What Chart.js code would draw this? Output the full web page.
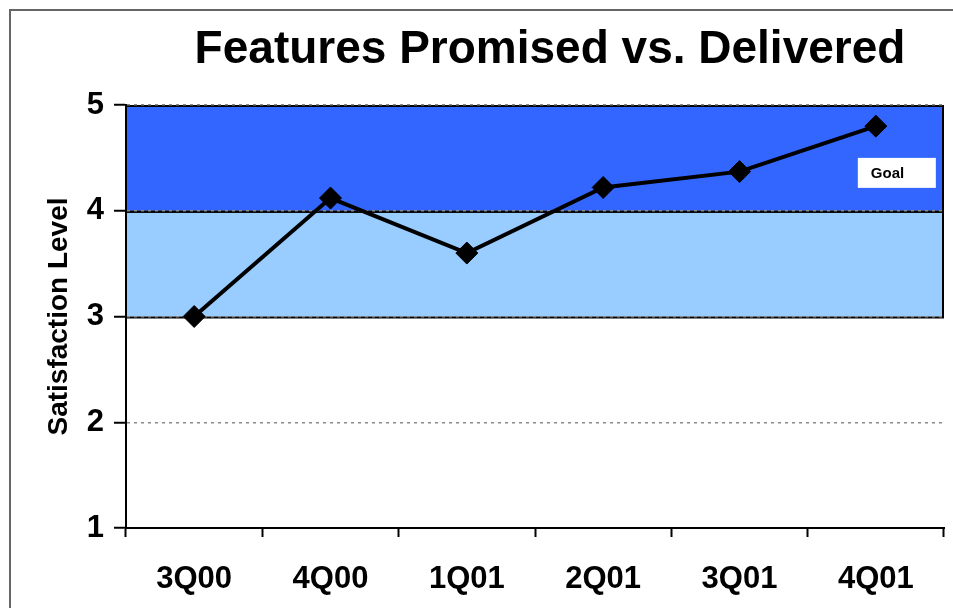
<!DOCTYPE html>
<html>
<head>
<meta charset="utf-8">
<script src="https://cdn.jsdelivr.net/npm/chart.js@4/dist/chart.umd.min.js"></script>
<style>
  html, body { margin: 0; padding: 0; background: #fff; overflow: hidden; }
  #wrap { position: relative; width: 953px; height: 608px; }
  #frame { position: absolute; left: 9px; top: 9px; width: 1000px; height: 700px; border: 2px solid #666; box-sizing: border-box; }
  canvas { position: absolute; left: 0; top: 0; }
</style>
</head>
<body>
<div id="wrap">
  <div id="frame"></div>
  <canvas id="c" width="953" height="608"></canvas>
</div>
<script>
const chartTitle = "Features Promised vs. Delivered";
const yAxisTitle = "Satisfaction Level";
const categories = ["3Q00", "4Q00", "1Q01", "2Q01", "3Q01", "4Q01"];
const satisfaction = [3.0, 4.12, 3.6, 4.22, 4.37, 4.8];
const yTicks = [1, 2, 3, 4, 5];
const bandLows = [3, 4];
const bandHighs = [4, 5];
const bandColors = ["#99CCFF", "#3366FF"];
const goalText = "Goal";

const FONT = "'Liberation Sans', Arial, Helvetica, sans-serif";

const bandsPlugin = {
  id: 'bands',
  beforeDraw(chart) {
    const {ctx, chartArea, scales: {y}} = chart;
    ctx.save();
    for (let i = 0; i < bandLows.length; i++) {
      const top = y.getPixelForValue(bandHighs[i]);
      const bot = y.getPixelForValue(bandLows[i]);
      ctx.fillStyle = bandColors[i];
      ctx.fillRect(chartArea.left, top, chartArea.right - chartArea.left, bot - top);
    }
    ctx.strokeStyle = '#000';
    ctx.lineWidth = 2;
    for (let i = 0; i < bandLows.length; i++) {
      const top = y.getPixelForValue(bandHighs[i]);
      const bot = y.getPixelForValue(bandLows[i]);
      ctx.strokeRect(chartArea.left, top + 1, chartArea.right - chartArea.left - 1, bot - top);
    }
    ctx.restore();
  },
  afterDraw(chart) {
    const {ctx, scales: {x, y}} = chart;
    ctx.save();
    const bx = x.getPixelForValue(5) - 18;
    const by = y.getPixelForValue(4.5);
    const bw = 78, bh = 30;
    ctx.fillStyle = '#fff';
    ctx.fillRect(bx, by, bw, bh);
    ctx.fillStyle = '#000';
    ctx.font = "bold 15px " + FONT;
    ctx.textAlign = 'left';
    ctx.textBaseline = 'middle';
    ctx.fillText(goalText, bx + 13, by + bh / 2 + 1);
    ctx.font = "bold 46px " + FONT;
    ctx.textAlign = 'center';
    ctx.textBaseline = 'alphabetic';
    ctx.fillText(chartTitle, 550, 63);
    ctx.restore();
  }
};

new Chart(document.getElementById('c'), {
  type: 'line',
  data: {
    labels: categories,
    datasets: [{
      data: satisfaction,
      borderColor: '#000',
      borderWidth: 4,
      backgroundColor: '#000',
      pointStyle: 'rectRot',
      pointRadius: 11,
      pointHoverRadius: 11,
      pointBorderWidth: 1,
      pointBorderColor: '#000',
      pointBackgroundColor: '#000',
      tension: 0,
      fill: false
    }]
  },
  options: {
    responsive: false,
    animation: false,
    devicePixelRatio: 1,
    layout: { autoPadding: false, padding: { left: 0, right: 9, top: 105, bottom: 0 } },
    plugins: {
      legend: { display: false },
      tooltip: { enabled: false },
      title: { display: false }
    },
    scales: {
      x: {
        type: 'category',
        offset: true,
        afterFit(s) { s.height = 80; s.paddingRight = 0; },
        grid: {
          offset: true,
          drawOnChartArea: false,
          drawTicks: true,
          tickLength: 9,
          tickColor: '#000',
          tickWidth: 2,
          color: '#000'
        },
        border: { display: true, color: '#000', width: 2 },
        ticks: {
          color: '#000',
          font: { family: FONT, size: 31, weight: 'bold' },
          padding: 24,
          maxRotation: 0,
          autoSkip: false
        }
      },
      y: {
        min: 1,
        max: 5,
        afterFit(s) { s.width = 126; },
        afterBuildTicks(s) { s.ticks = yTicks.map(v => ({ value: v })); },
        grid: {
          color: (c) => (c.tick && c.tick.value === 1) ? 'rgba(0,0,0,0)' : '#8a8a8a',
          lineWidth: 1.5,
          drawTicks: true,
          tickLength: 12,
          tickColor: '#000',
          tickWidth: 2,
          tickBorderDash: []
        },
        border: { display: true, color: '#000', width: 2, dash: [3, 4] },
        ticks: {
          color: '#000',
          font: { family: FONT, size: 31, weight: 'bold' },
          padding: 10,
          callback: (v) => String(v)
        },
        title: {
          display: true,
          text: yAxisTitle,
          color: '#000',
          font: { family: FONT, size: 28, weight: 'bold' },
          padding: { top: 42, bottom: 0 }
        }
      }
    }
  },
  plugins: [bandsPlugin]
});
</script>
</body>
</html>
